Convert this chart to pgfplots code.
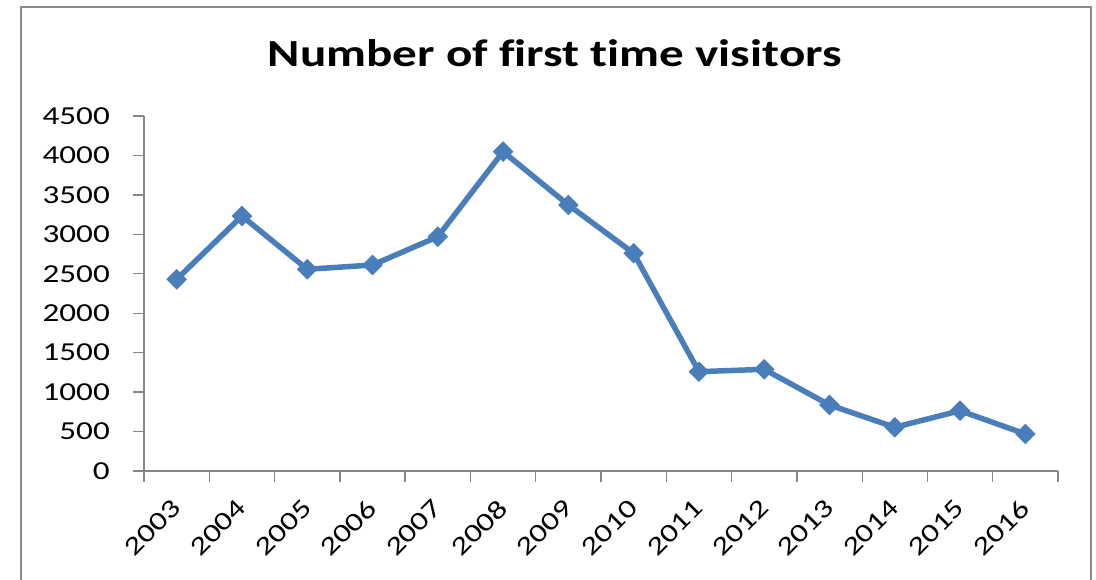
\documentclass[border=0pt]{standalone}
\usepackage{fontspec}
\setmainfont{Carlito}[FakeStretch=1.28, Ligatures={NoCommon}]
\usepackage{pgfplots}
\pgfplotsset{compat=1.18}
\definecolor{linec}{HTML}{4A7EBB}
\definecolor{axc}{HTML}{868686}
\definecolor{framec}{HTML}{8C8C8C}
\begin{document}
\begin{tikzpicture}[x=1bp,y=1bp]
\useasboundingbox (0,0) rectangle (1096,580);
\draw[color=framec, line width=1.5bp] (21,-20) rectangle (1091,573);
\node[font=\fontsize{38.5}{40}\selectfont\bfseries, anchor=base, inner sep=0pt] at (555,513) {Number of first time visitors};
\begin{axis}[at={(144bp,109bp)}, anchor=south west,
  width=914bp, height=355bp, scale only axis,
  xmin=-0.5, xmax=13.5, ymin=0, ymax=4500,
  axis x line=bottom, axis y line=left,
  axis line style={-, color=axc, line width=1.3bp},
  every tick/.style={color=axc, line width=1.3bp},
  ytick={0,500,...,4500},
  xtick={-0.5,0.5,...,13.5},
  xticklabels={2003,2004,2005,2006,2007,2008,2009,2010,2011,2012,2013,2014,2015,2016},
  x tick label as interval,
  tick align=outside, major tick length=11bp,
  /pgf/number format/assume math mode=true,
  /pgf/number format/1000 sep={},
  ticklabel style={font=\fontsize{26}{28}\selectfont},
  yticklabel style={anchor=east, inner sep=0pt},
  yticklabel shift=23bp,
  xticklabel style={anchor=east, inner sep=0pt, yshift=-22bp, xshift=0bp, rotate=45},
  clip=false,
]
\addplot[color=linec, line width=5.5bp, mark=square*, mark size=6.8bp,
  mark options={rotate=45, fill=linec, draw=linec, line width=1bp}]
  coordinates {
  (0,2430) (1,3232) (2,2557) (3,2611) (4,2970) (5,4048) (6,3372)
  (7,2760) (8,1259) (9,1289) (10,837) (11,554) (12,764) (13,469)
  };
\end{axis}
\end{tikzpicture}
\end{document}
